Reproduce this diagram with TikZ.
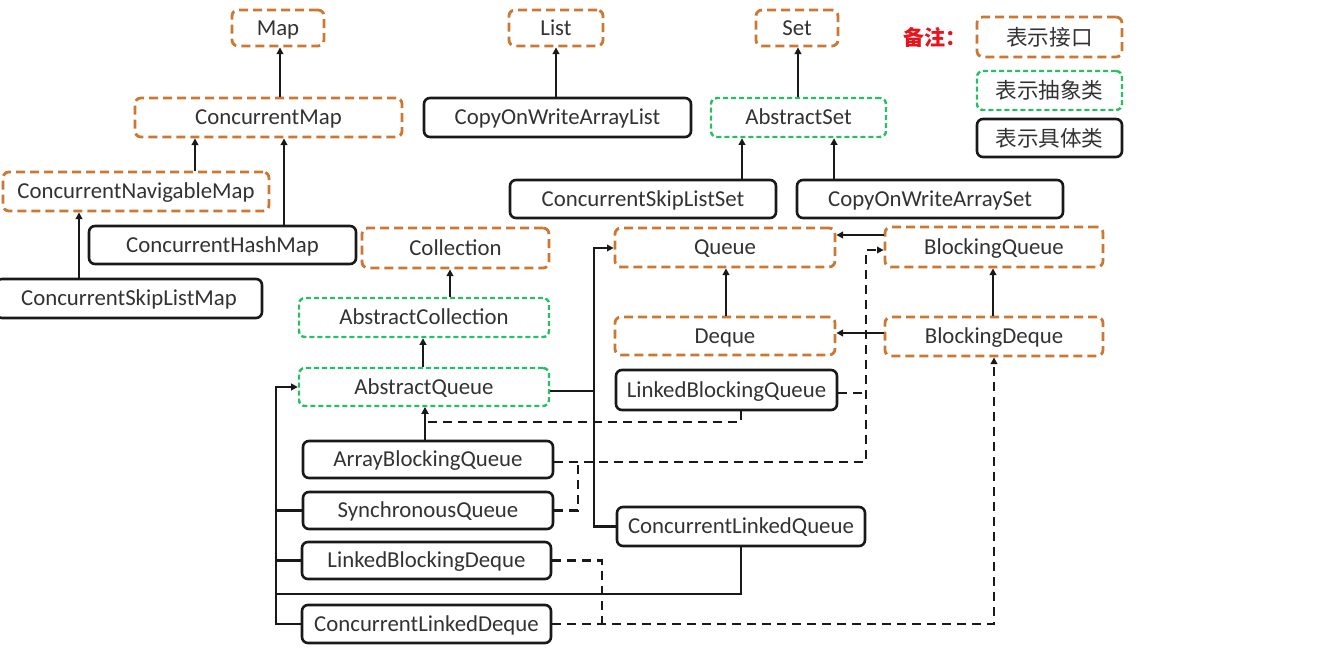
\documentclass[tikz,border=0pt]{standalone}
\usepackage{fontspec}
\setmainfont{Carlito}
\newfontfamily\cjk{Noto Sans CJK SC}
\usetikzlibrary{arrows.meta}
\definecolor{ifc}{RGB}{204,120,50}
\definecolor{absc}{RGB}{40,190,100}
\definecolor{txt}{RGB}{50,50,50}
\definecolor{conc}{RGB}{25,25,25}
\definecolor{notered}{RGB}{230,20,30}
\begin{document}
\begin{tikzpicture}[x=0.5pt,y=-0.5pt,
 box/.style={rounded corners=3pt, inner sep=0pt, font=\fontsize{11.4}{13}\selectfont,
   text=txt, text height=7.3pt, text depth=0pt},
 iface/.style={box, draw=ifc, line width=1.4pt, dash pattern=on 4.5pt off 2.5pt},
 abst/.style={box, draw=absc, line width=1.2pt, dash pattern=on 2.5pt off 1.5pt},
 concr/.style={box, draw=conc, line width=1.3pt},
 cjkfont/.style={font=\cjk\fontsize{10.8}{13}\selectfont, text height=8.4pt, text depth=0.4pt},
 sz/.style 2 args={minimum width=#1pt, minimum height=#2pt},
 arr/.style={draw=conc, line width=1.15pt, -{Triangle[length=3.3pt,width=3.3pt]}},
 ln/.style={draw=conc, line width=1.15pt},
 dln/.style={ln, dash pattern=on 4.5pt off 3pt},
 darr/.style={arr, dash pattern=on 4.5pt off 3pt}]
\useasboundingbox (0,0) rectangle (1335,654);
% ---- Map branch
\node[iface, sz={46}{18}] (map) at (278,28) {Map};
\node[iface, sz={133.5}{19.5}] (cm) at (268.5,117.5) {ConcurrentMap};
\node[iface, sz={133}{19.5}] (cnm) at (136,191.5) {ConcurrentNavigableMap};
\node[concr, sz={133.5}{19}] (chm) at (222.5,245) {ConcurrentHashMap};
\node[concr, sz={133}{19.5}] (cslm) at (129,298.5) {ConcurrentSkipListMap};
% ---- List / Set
\node[iface, sz={47}{18}] (list) at (556,28) {List};
\node[concr, sz={133.5}{19.5}] (cowal) at (557.5,117.5) {CopyOnWriteArrayList};
\node[iface, sz={41}{18}] (set) at (797,28) {Set};
\node[abst, sz={87.5}{19.5}] (aset) at (798.5,117.5) {AbstractSet};
\node[concr, sz={133}{19}] (csls) at (643,199) {ConcurrentSkipListSet};
\node[concr, sz={133}{19}] (cowas) at (930,199) {CopyOnWriteArraySet};
% ---- legend
\node[font=\cjk\bfseries\fontsize{10.5}{12}\selectfont, text=notered] (note) at (935,37) {备注：};
\node[iface, cjkfont, sz={72.5}{20}] (lg1) at (1049.5,37) {表示接口};
\node[abst, cjkfont, sz={72.5}{19.5}] (lg2) at (1049.5,90.5) {表示抽象类};
\node[concr, cjkfont, sz={72.5}{19}] (lg3) at (1049.5,138) {表示具体类};
% ---- Collection branch
\node[iface, sz={93.5}{20}] (coll) at (455.5,248) {Collection};
\node[abst, sz={125}{19.5}] (acoll) at (424,317.5) {AbstractCollection};
\node[abst, sz={125}{19}] (aq) at (424,387) {AbstractQueue};
\node[iface, sz={110}{19.5}] (queue) at (725,247.5) {Queue};
\node[iface, sz={110}{19}] (deque) at (725,336) {Deque};
\node[iface, sz={109}{20}] (bq) at (994,247) {BlockingQueue};
\node[iface, sz={109}{19.5}] (bd) at (994,336.5) {BlockingDeque};
\node[concr, sz={110.5}{20}] (lbq) at (726.5,390) {LinkedBlockingQueue};
\node[concr, sz={125}{18.5}] (abq) at (428,459.5) {ArrayBlockingQueue};
\node[concr, sz={125}{18.5}] (sq) at (428,510.5) {SynchronousQueue};
\node[concr, sz={124.5}{18.5}] (lbd) at (426.5,560.5) {LinkedBlockingDeque};
\node[concr, sz={124.5}{19}] (cld) at (426.5,624) {ConcurrentLinkedDeque};
\node[concr, sz={124}{19.5}] (clq) at (741,526.5) {ConcurrentLinkedQueue};
% ---- routing points
\coordinate (x280) at (280,0);
\coordinate (x195) at (195,0);
\coordinate (x284) at (284,0);
\coordinate (x79) at (79,0);
\coordinate (x556) at (556,0);
\coordinate (x798) at (798,0);
\coordinate (x742) at (742,0);
\coordinate (x834) at (834,0);
\coordinate (x450) at (450,0);
\coordinate (x423) at (423,0);
\coordinate (x726) at (726,0);
\coordinate (x993) at (993,0);
\coordinate (x425) at (425,0);
\coordinate (x741) at (741,0);
\coordinate (x994) at (994,0);
\coordinate (y235) at (0,235);
\coordinate (y333) at (0,333);
\coordinate (y391) at (0,391);
\coordinate (y393) at (0,393);
\coordinate (y462) at (0,462);
\coordinate (jq) at (594,248);
\coordinate (jl) at (276,387);
\coordinate (jb) at (276,594);
\coordinate (jlbq) at (425,422);
\coordinate (jbq) at (866,250);
\coordinate (jsq) at (578,462);
\coordinate (jlbd) at (602,624);
% ---- solid inheritance arrows
\draw[arr] (cm.north -| x280) -- (map.south -| x280);
\draw[arr] (cnm.north -| x195) -- (cm.south -| x195);
\draw[arr] (chm.north -| x284) -- (cm.south -| x284);
\draw[arr] (cslm.north -| x79) -- (cnm.south -| x79);
\draw[arr] (cowal.north -| x556) -- (list.south -| x556);
\draw[arr] (aset.north -| x798) -- (set.south -| x798);
\draw[arr] (csls.north -| x742) -- (aset.south -| x742);
\draw[arr] (cowas.north -| x834) -- (aset.south -| x834);
\draw[arr] (acoll.north -| x450) -- (coll.south -| x450);
\draw[arr] (aq.north -| x423) -- (acoll.south -| x423);
\draw[arr] (deque.north -| x726) -- (queue.south -| x726);
\draw[arr] (bd.north -| x993) -- (bq.south -| x993);
\draw[arr] (bq.west |- y235) -- (queue.east |- y235);
\draw[arr] (bd.west |- y333) -- (deque.east |- y333);
\draw[arr] (aq.east |- y391) -| (jq) -- (queue.west |- jq);
\draw[ln] (clq.west) -| (jq);
\draw[arr] (cld.west) -| (jl) -- (aq.west |- jl);
\draw[ln] (sq.west) -- (sq.west -| jl);
\draw[ln] (lbd.west) -- (lbd.west -| jl);
\draw[ln] (clq.south) |- (jb);
\draw[arr] (abq.north -| x425) -- (aq.south -| x425);
% ---- dashed (interface) connectors
\draw[darr] (lbq.south -| x741) |- (jlbq) -- (aq.south -| jlbq);
\draw[darr] (abq.east |- y462) -| (jbq) -- (bq.west |- jbq);
\draw[dln] (lbq.east |- y393) -- (jbq |- y393);
\draw[dln] (sq.east) -| (jsq);
\draw[dln] (lbd.east) -| (jlbd);
\draw[darr] (cld.east) -| (bd.south -| x994);
\end{tikzpicture}
\end{document}
